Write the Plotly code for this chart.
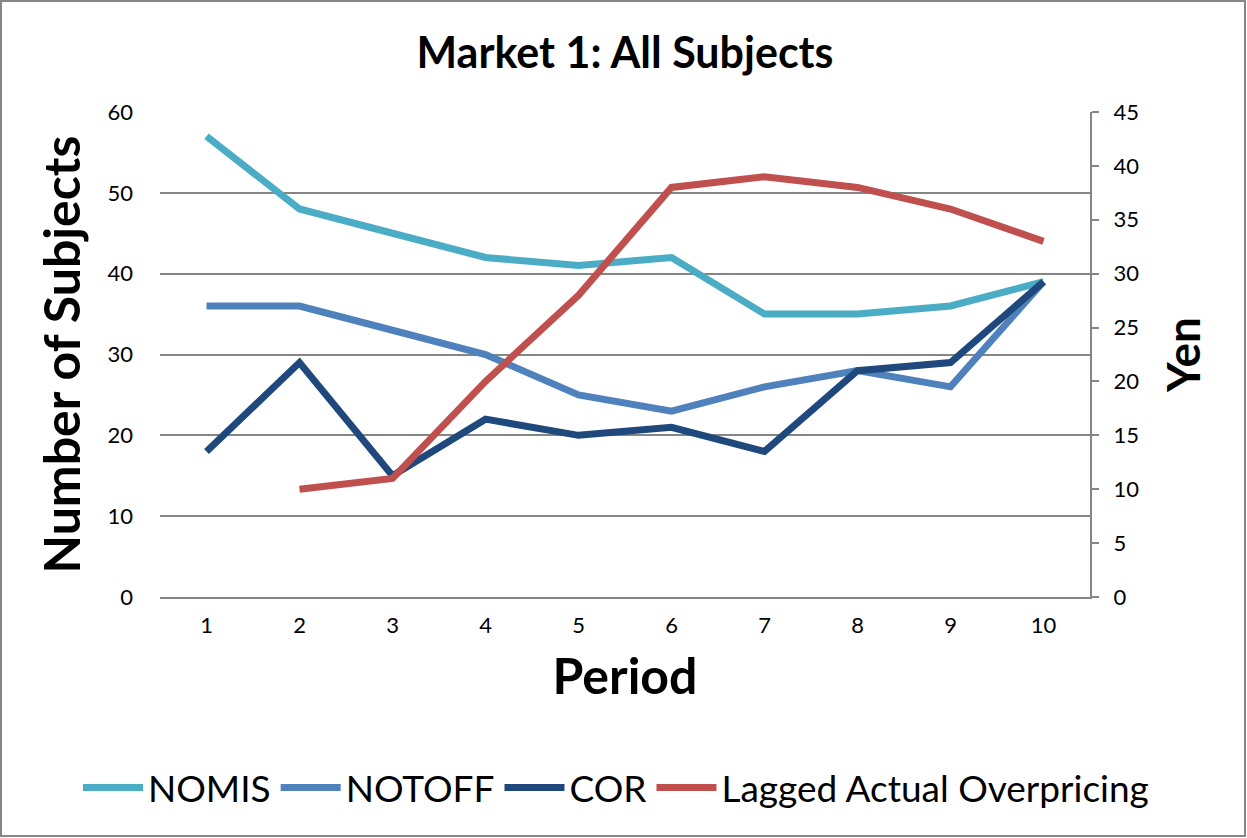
import plotly.graph_objects as go

periods = [1, 2, 3, 4, 5, 6, 7, 8, 9, 10]
nomis = [57, 48, 45, 42, 41, 42, 35, 35, 36, 39]
notoff = [36, 36, 33, 30, 25, 23, 26, 28, 26, 39]
cor = [18, 29, 15, 22, 20, 21, 18, 28, 29, 39]
lagged = [None, 10, 11, 20, 28, 38, 39, 38, 36, 33]

FONT = "Lato"
W, H = 1247, 838
L, R, T, B = 160, 157, 112, 241
pw, ph = W - L - R, H - T - B

fig = go.Figure()
fig.add_trace(go.Scatter(x=periods, y=nomis, name="NOMIS", mode="lines",
                         line=dict(color="#4BACC6", width=7)))
fig.add_trace(go.Scatter(x=periods, y=notoff, name="NOTOFF", mode="lines",
                         line=dict(color="#4F81BD", width=7)))
fig.add_trace(go.Scatter(x=periods, y=cor, name="COR", mode="lines",
                         line=dict(color="#1F497D", width=7)))
fig.add_trace(go.Scatter(x=periods, y=lagged, name="Lagged Actual Overpricing", mode="lines",
                         line=dict(color="#C0504D", width=7), yaxis="y2"))

def px_to_paper_x(p):
    return (p - L) / pw

def px_to_paper_y(p):
    return (H - B - p) / ph

fig.update_layout(
    width=W, height=H,
    margin=dict(l=L, r=R, t=T, b=B, autoexpand=False),
    paper_bgcolor="white", plot_bgcolor="white",
    font=dict(family=FONT, color="black"),
    title=dict(text="<b>Market 1: All Subjects</b>", x=0.5, xref="paper", xanchor="center",
               y=1 - 53 / H, yanchor="middle", font=dict(size=43, family=FONT)),
    xaxis=dict(range=[0.5, 10.5], tickmode="array", tickvals=periods,
               ticktext=[str(p) for p in periods], tickfont=dict(size=22),
               showgrid=False, zeroline=False, showline=True, linecolor="#868686",
               linewidth=2, ticks="", ticklabelstandoff=8,
               title=dict(text="<b>Period</b>", font=dict(size=50), standoff=22)),
    yaxis=dict(range=[0, 60], dtick=10, tickfont=dict(size=22), showgrid=True,
               gridcolor="#868686", gridwidth=2, zeroline=False, showline=False,
               ticks="", ticklabelstandoff=26,
               title=dict(text="<b>Number of Subjects</b>", font=dict(size=50), standoff=10)),
    yaxis2=dict(range=[0, 45], dtick=5, overlaying="y", side="right", tickfont=dict(size=22),
                showgrid=False, zeroline=False, showline=True, linecolor="#868686",
                linewidth=2, ticks="outside", ticklen=7, tickcolor="#868686", tickwidth=2,
                ticklabelstandoff=10,
                title=dict(text="<b>Yen</b>", font=dict(size=46), standoff=30)),
    legend=dict(orientation="h", x=px_to_paper_x(78), xanchor="left", xref="paper",
                y=px_to_paper_y(788), yref="paper", yanchor="middle",
                font=dict(size=37, family=FONT), itemwidth=60, tracegroupgap=0,
                traceorder="normal", bgcolor="rgba(0,0,0,0)"),
    showlegend=True,
)

fig.add_shape(type="rect", xref="paper", yref="paper",
              x0=px_to_paper_x(1), x1=px_to_paper_x(W - 2),
              y0=px_to_paper_y(H - 2), y1=px_to_paper_y(1),
              line=dict(color="#868686", width=2), fillcolor="rgba(0,0,0,0)", layer="below")

fig.write_html("out.html", config={"displayModeBar": False},
               post_script="document.body.style.margin='0px';")
